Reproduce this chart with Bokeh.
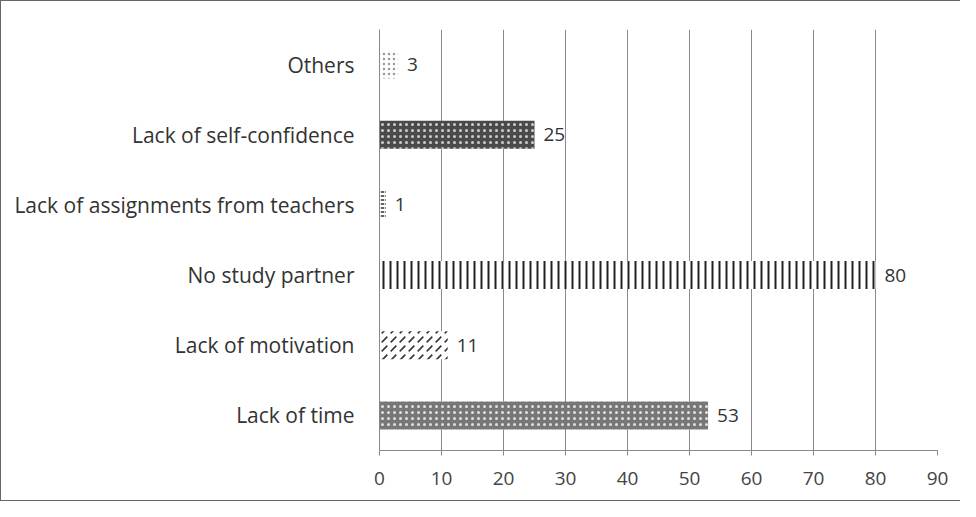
from bokeh.plotting import figure
from bokeh.models import ColumnDataSource, Range1d, FactorRange, FixedTicker
from bokeh.core.properties import value
from bokeh.embed import file_html
from bokeh.resources import INLINE

# Data (bottom to top)
categories = ["Lack of time", "Lack of motivation", "No study partner",
              "Lack of assignments from teachers", "Lack of self-confidence", "Others"]
counts = [53, 11, 80, 1, 25, 3]
x_ticks = [0, 10, 20, 30, 40, 50, 60, 70, 80, 90]

fill_colors = ["#777777", "#ffffff", "#ffffff", "#ffffff", "#4a4a4a", "#ffffff"]
hatch_patterns = ["dot", "right_diagonal_dash", "vertical_line", "horizontal_dash", "dot", "dot"]
hatch_colors = ["#e0e0e0", "#333333", "#222222", "#333333", "#cccccc", "#999999"]
hatch_scales = [6, 9, 7, 4, 6, 5]
hatch_weights = [1.5, 1.6, 2.0, 1.5, 1.5, 1.5]

src = ColumnDataSource(dict(cat=categories, val=counts, fc=fill_colors, hp=hatch_patterns,
                            hc=hatch_colors, hs=hatch_scales, hw=hatch_weights,
                            lab=[str(v) for v in counts]))

p = figure(width=960, height=501, y_range=FactorRange(*categories), x_range=Range1d(0, 90),
           output_backend="svg", toolbar_location=None,
           min_border_left=378, min_border_right=24, min_border_top=28, min_border_bottom=52)
p.styles = {"border-left": "1px solid #666", "border-top": "1px solid #666",
            "border-bottom": "1px solid #666"}
p.outline_line_color = None
p.background_fill_color = "white"
p.border_fill_color = "white"

p.hbar(y="cat", left=0, right="val", height=0.4, source=src, fill_color="fc",
       line_color=None, hatch_pattern="hp", hatch_color="hc", hatch_scale="hs",
       hatch_weight="hw")

p.text(x="val", y="cat", text="lab", source=src, x_offset=9, text_baseline="middle",
       text_align="left", text_font=value("Open Sans"), text_font_size="19px",
       text_color="#333333")

p.xaxis.ticker = FixedTicker(ticks=x_ticks)
p.xaxis.axis_line_color = "#888888"
p.xaxis.major_tick_line_color = "#888888"
p.xaxis.major_tick_out = 5
p.xaxis.major_tick_in = 0
p.xaxis.minor_tick_line_color = None
p.xaxis.major_label_text_font = "Open Sans"
p.xaxis.major_label_text_font_size = "19px"
p.xaxis.major_label_text_color = "#444444"
p.xaxis.major_label_standoff = 16

p.yaxis.axis_line_color = "#888888"
p.yaxis.major_tick_line_color = None
p.yaxis.minor_tick_line_color = None
p.yaxis.major_label_text_font = "Open Sans"
p.yaxis.major_label_text_font_size = "21px"
p.yaxis.major_label_text_color = "#333333"
p.yaxis.major_label_standoff = 19

p.xgrid.grid_line_color = "#8a8a8a"
p.xgrid.grid_line_width = 1
p.ygrid.grid_line_color = None

open("out.html", "w").write(file_html(p, INLINE))
